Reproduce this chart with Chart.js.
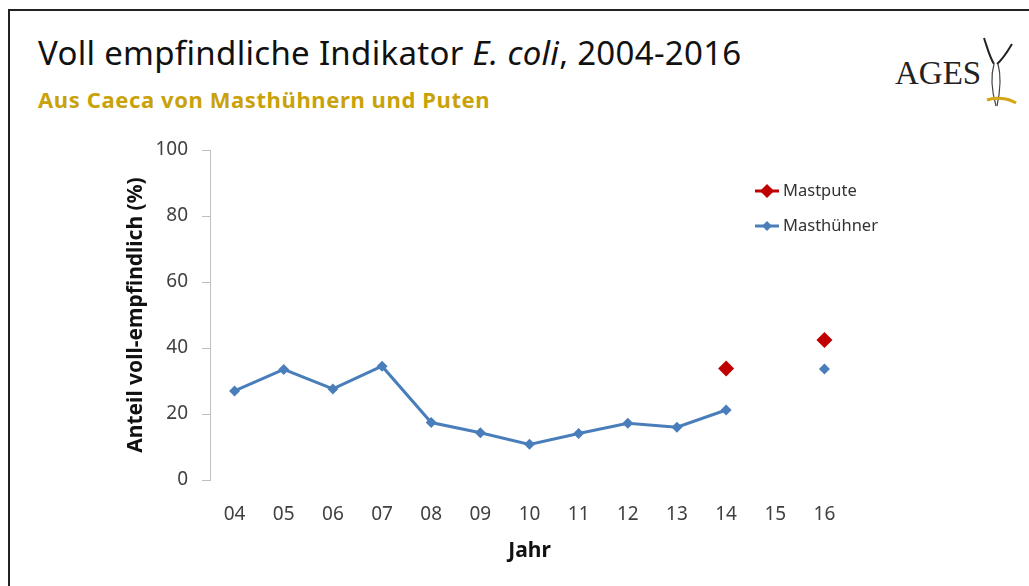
<!DOCTYPE html>
<html>
<head>
<meta charset="utf-8">
<script src="https://cdn.jsdelivr.net/npm/chart.js@4.4.1/dist/chart.umd.min.js"></script>
<style>
    html, body { margin: 0; padding: 0; background: #fff; }
    body { width: 1029px; height: 586px; position: relative; overflow: hidden; font-family: "Noto Sans", sans-serif; }
    .frame { position: absolute; left: 8px; top: 9px; width: 1100px; height: 700px; border-left: 2px solid #222; border-top: 2px solid #222; }
    .title { position: absolute; left: 38px; top: 36px; font-size: 33px; line-height: 1; letter-spacing: 0.3px; color: #111; white-space: nowrap; font-weight: 400; }
    .subtitle { position: absolute; left: 38px; top: 88px; font-size: 22px; line-height: 1; letter-spacing: 0.6px; color: #C9A20A; font-weight: 700; white-space: nowrap; }
    .logo { position: absolute; left: 880px; top: 30px; width: 140px; height: 80px; }
    .logo span { position: absolute; left: 15px; top: 27px; line-height: 1; font-family: "Liberation Serif", serif; font-size: 33px; color: #222; }
    #chart-wrap { position: absolute; left: 0; top: 0; width: 1029px; height: 586px; }
</style>
</head>
<body>
<div class="frame"></div>
<div class="title">Voll empfindliche Indikator <i>E. coli</i>, 2004-2016</div>
<div class="subtitle">Aus Caeca von Masthühnern und Puten</div>
<div class="logo">
    <span>AGES</span>
    <svg width="140" height="80" style="position:absolute;left:0;top:0">
        <path d="M104 8 C108 20 110 28 114 34" stroke="#222" stroke-width="2" fill="none"/>
        <path d="M132 14 C126 24 122 30 117 34" stroke="#222" stroke-width="2" fill="none"/>
        <path d="M114 34 C110 48 112 62 116 76" stroke="#444" stroke-width="1.2" fill="none"/>
        <path d="M118 34 C122 48 120 62 117 76" stroke="#444" stroke-width="1.2" fill="none"/>
        <path d="M107 70 C115 67 128 68 136 73" stroke="#D4A514" stroke-width="3" fill="none"/>
    </svg>
</div>
<div id="chart-wrap"><canvas id="chart" width="1029" height="586"></canvas></div>

<script>
var years = ['04', '05', '06', '07', '08', '09', '10', '11', '12', '13', '14', '15', '16'];
var masthuehner = [27, 33.5, 27.6, 34.5, 17.4, 14.3, 10.8, 14.1, 17.2, 16, 21.2, null, 33.6];
var mastpute = [null, null, null, null, null, null, null, null, null, null, 33.8, null, 42.4];
var yTicks = [0, 20, 40, 60, 80, 100];

var blue = '#4A7EBB';
var red = '#C00000';

// legend like the Excel one, top right inside the plot
var legendPlugin = {
    id: 'sideLegend',
    afterDraw: function(chart) {
        var ctx = chart.ctx;
        var items = [
            { label: 'Mastpute', color: red, r: 7, y: 191 },
            { label: 'Masthühner', color: blue, r: 5, y: 226 }
        ];
        ctx.save();
        items.forEach(function(it) {
            ctx.strokeStyle = it.color;
            ctx.lineWidth = 3;
            ctx.beginPath();
            ctx.moveTo(755, it.y);
            ctx.lineTo(779, it.y);
            ctx.stroke();
            ctx.fillStyle = it.color;
            ctx.beginPath();
            ctx.moveTo(767 - it.r, it.y);
            ctx.lineTo(767, it.y - it.r);
            ctx.lineTo(767 + it.r, it.y);
            ctx.lineTo(767, it.y + it.r);
            ctx.closePath();
            ctx.fill();
            ctx.fillStyle = '#333';
            ctx.font = '16.5px "Noto Sans"';
            ctx.textBaseline = 'middle';
            ctx.fillText(it.label, 783, it.y);
        });
        ctx.restore();
    }
};

var ctx = document.getElementById('chart');
var chart = new Chart(ctx, {
    type: 'line',
    data: {
        labels: years,
        datasets: [{
            label: 'Mastpute',
            data: mastpute,
            showLine: false,
            pointStyle: 'rectRot',
            pointRadius: 8,
            backgroundColor: red,
            borderColor: red,
            pointBorderWidth: 0
        }, {
            label: 'Masthühner',
            data: masthuehner,
            borderColor: blue,
            backgroundColor: blue,
            borderWidth: 3,
            pointStyle: 'rectRot',
            pointRadius: 5.5,
            pointBorderWidth: 0,
            spanGaps: false,
            tension: 0
        }]
    },
    options: {
        responsive: false,
        animation: false,
        layout: { padding: { left: 120, top: 150, right: 180, bottom: 0 } },
        plugins: {
            legend: { display: false },
            tooltip: { enabled: false }
        },
        scales: {
            x: {
                offset: true,
                afterFit: function(scale) { scale.height = 106; },
                grid: { display: false },
                border: { display: false },
                ticks: { color: '#404040', font: { size: 19, family: 'Noto Sans' }, padding: 15, maxRotation: 0 },
                title: {
                    display: true,
                    text: 'Jahr',
                    color: '#111',
                    font: { size: 21, weight: 'bold', family: 'Noto Sans' },
                    padding: { top: 0, bottom: 22 }
                }
            },
            y: {
                min: 0,
                max: 100,
                afterFit: function(scale) { scale.width = 90; },
                afterBuildTicks: function(scale) {
                    scale.ticks = yTicks.map(function(v) { return { value: v }; });
                },
                grid: { drawOnChartArea: false, tickLength: 8, color: '#BFBFBF' },
                border: { color: '#BFBFBF', width: 1 },
                ticks: { color: '#404040', font: { size: 19, family: 'Noto Sans' }, padding: 14 },
                title: {
                    display: true,
                    text: 'Anteil voll-empfindlich (%)',
                    color: '#111',
                    font: { size: 21, weight: 'bold', family: 'Noto Sans' },
                    padding: { top: 3, bottom: 0 }
                }
            }
        }
    },
    plugins: [legendPlugin]
});
</script>
</body>
</html>
